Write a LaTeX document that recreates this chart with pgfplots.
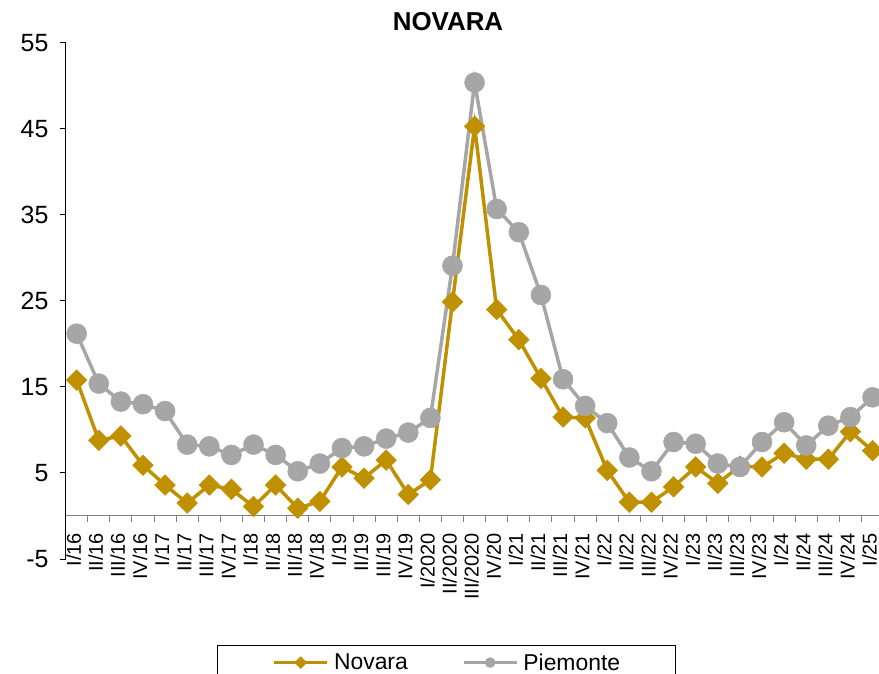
\documentclass[border=0pt]{standalone}
\usepackage{fontspec}
\setmainfont{Liberation Sans}
\usepackage{pgfplots}
\pgfplotsset{compat=1.18}
\definecolor{novara}{RGB}{191,144,0}
\definecolor{piem}{RGB}{166,166,166}

\begin{document}
\begin{tikzpicture}
\begin{axis}[
    at={(65.6bp,115bp)}, anchor=south west,
    scale only axis, width=818bp, height=516bp,
    xmin=-0.5, xmax=36.5, ymin=-5, ymax=55,
    axis x line=middle, axis y line=left,
    x axis line style={-, draw=gray, line width=1bp},
    y axis line style={-, draw=black, line width=1bp},
    tick align=outside,
    xtick={0,...,36},
    xticklabels={I/16,II/16,III/16,IV/16,I/17,II/17,III/17,IV/17,I/18,II/18,III/18,IV/18,I/19,II/19,III/19,IV/19,I/2020,II/2020,III/2020,IV/20,I/21,II/21,III/21,IV/21,I/22,II/22,III/22,IV/22,I/23,II/23,III/23,IV/23,I/24,II/24,III/24,IV/24,I/25},
    minor xtick={-0.5,0.5,...,36.5},
    major x tick style={draw=none},
    minor x tick style={draw=gray, line width=1bp},
    minor tick length=6bp,
    major tick length=6bp,
    ytick={-5,5,...,55},
    y tick style={draw=black, line width=1bp},
    /pgf/number format/assume math mode=true,
    yticklabel style={font=\fontsize{25}{28}\selectfont, inner sep=0pt, xshift=-11bp},
    xticklabel style={font=\fontsize{20}{23}\selectfont, rotate=90, anchor=east, inner sep=0pt, xshift=-11bp, yshift=3bp},
    legend columns=2,
    legend style={at={(0.1851,-0.1667)}, anchor=north west, draw=black, line width=1bp,
        font=\fontsize{23}{26}\selectfont, inner xsep=55bp, inner ysep=8bp,
        nodes={inner sep=0pt},
        /tikz/every odd column/.append style={column sep=5bp},
        /tikz/every even column/.append style={column sep=54bp}},
    legend image code/.code={
        \draw[mark repeat=2, mark phase=2, #1, line width=3.5bp]
            plot coordinates {(0bp,0bp) (26.5bp,0bp) (53bp,0bp)};
    },
]
\addplot[novara, line width=3.5bp, mark=square*, mark size=7.3bp,
    mark options={rotate=45, line width=0.5bp},
    legend image post style={mark size=4.2bp}] coordinates {
(0,15.8) (1,8.8) (2,9.3) (3,5.9) (4,3.6) (5,1.5) (6,3.6) (7,3.1) (8,1.1)
(9,3.6) (10,0.9) (11,1.7) (12,5.7) (13,4.4) (14,6.5) (15,2.5) (16,4.2)
(17,24.9) (18,45.3) (19,24.0) (20,20.5) (21,16.0) (22,11.5) (23,11.4)
(24,5.3) (25,1.6) (26,1.6) (27,3.4) (28,5.7) (29,3.8) (30,5.8) (31,5.7)
(32,7.3) (33,6.6) (34,6.6) (35,9.8) (36,7.6)
};
\addlegendentry{Novara}
\addplot[piem, line width=3.5bp, mark=*, mark size=10bp,
    mark options={line width=0.5bp},
    legend image post style={mark size=5bp}] coordinates {
(0,21.2) (1,15.4) (2,13.3) (3,13.0) (4,12.2) (5,8.3) (6,8.1) (7,7.1) (8,8.3)
(9,7.1) (10,5.2) (11,6.1) (12,7.9) (13,8.1) (14,9.0) (15,9.7) (16,11.4)
(17,29.1) (18,50.4) (19,35.7) (20,33.0) (21,25.7) (22,15.9) (23,12.8)
(24,10.8) (25,6.8) (26,5.2) (27,8.6) (28,8.4) (29,6.1) (30,5.7) (31,8.6)
(32,10.9) (33,8.2) (34,10.5) (35,11.5) (36,13.8)
};
\addlegendentry{Piemonte}
\end{axis}
\node[font=\bfseries\fontsize{26}{30}\selectfont, inner sep=0pt] at (448bp,652bp) {NOVARA};
\pgfresetboundingbox
\path[use as bounding box] (0bp,0bp) rectangle (879bp,674bp);
\end{tikzpicture}
\end{document}
